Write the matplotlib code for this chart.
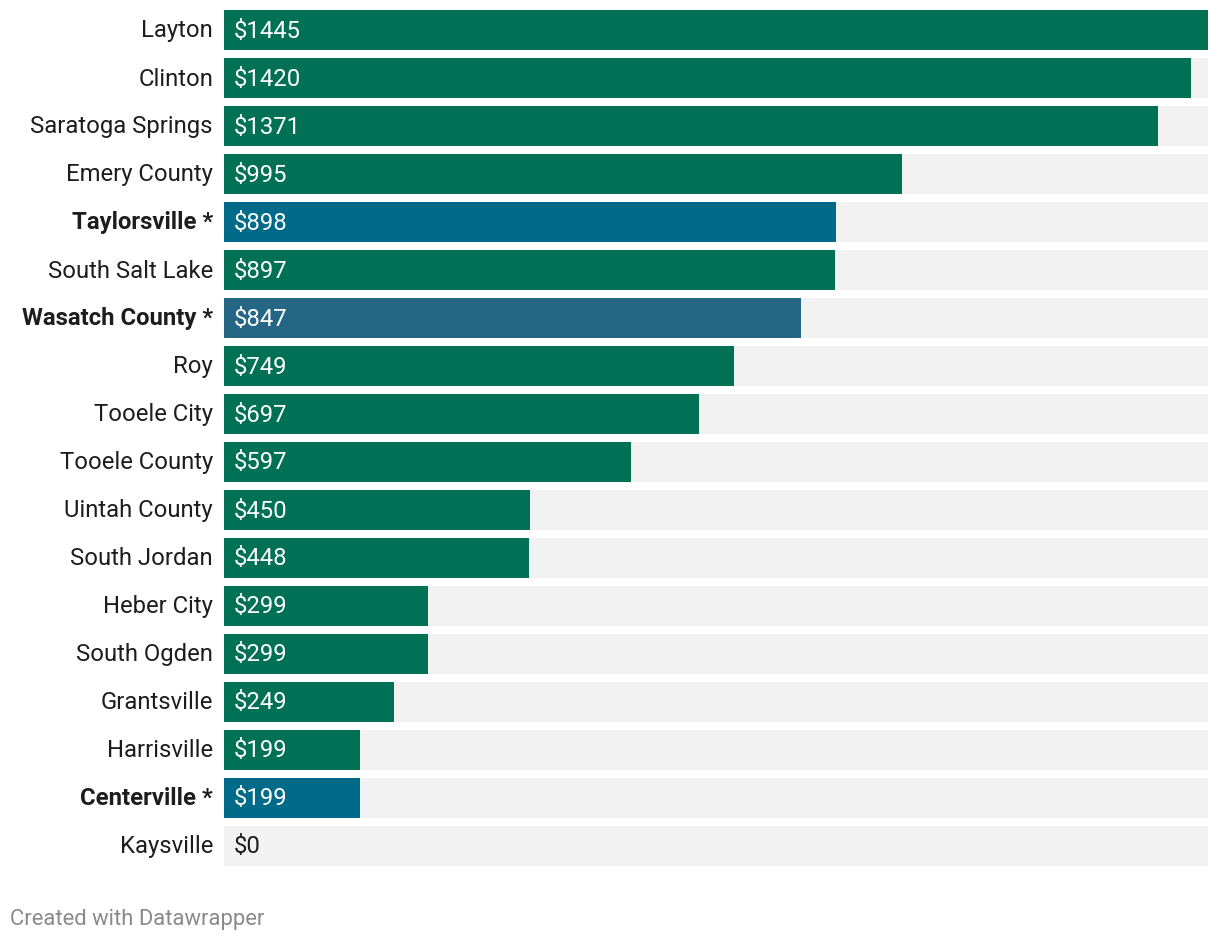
import matplotlib.pyplot as plt
from matplotlib.transforms import offset_copy

plt.rcParams['font.family'] = ['Roboto', 'DejaVu Sans']

places = ["Layton", "Clinton", "Saratoga Springs", "Emery County", "Taylorsville *",
          "South Salt Lake", "Wasatch County *", "Roy", "Tooele City", "Tooele County",
          "Uintah County", "South Jordan", "Heber City", "South Ogden", "Grantsville",
          "Harrisville", "Centerville *", "Kaysville"]
fees = [1445, 1420, 1371, 995, 898, 897, 847, 749, 697, 597, 450, 448, 299, 299, 249, 199, 199, 0]
highlight = ["Taylorsville *", "Wasatch County *", "Centerville *"]

green = "#007155"
blue = "#006a89"
colors = []
for p in places:
    if p == "Wasatch County *":
        colors.append("#266685")
    elif p in highlight:
        colors.append(blue)
    else:
        colors.append(green)

fig = plt.figure(figsize=(12.2, 9.42), dpi=100)
ax = fig.add_axes([224/1220, 1 - 866/942, 984/1220, 856/942])

h = 40/48
y = list(range(len(places)))
xmax = max(fees)
ax.barh(y, [xmax]*len(y), height=h, color="#f2f2f2", zorder=1)
ax.barh(y, fees, height=h, color=colors, zorder=2)

ax.set_xlim(0, xmax)
ax.set_ylim(len(places) - 1 + h/2, -h/2)
ax.axis("off")

lab_tr = offset_copy(ax.transData, fig=fig, x=-11, y=-1, units="dots")
val_tr = offset_copy(ax.transData, fig=fig, x=10, y=-1, units="dots")
for i, (p, v) in enumerate(zip(places, fees)):
    bold = p in highlight
    ax.text(0, i, p, transform=lab_tr, ha="right", va="center", fontsize=17.2,
            color="#1d1d1d", fontweight="bold" if bold else "normal")
    ax.text(0, i, "$" + str(v), transform=val_tr, ha="left", va="center", fontsize=17.2,
            color="white" if v > 0 else "#1d1d1d")

fig.text(10/1220, 1 - 919/942, "Created with Datawrapper", ha="left", va="center",
         fontsize=15.8, color="#8a8a8a")

fig.savefig("out.png", dpi=100, facecolor="white")
